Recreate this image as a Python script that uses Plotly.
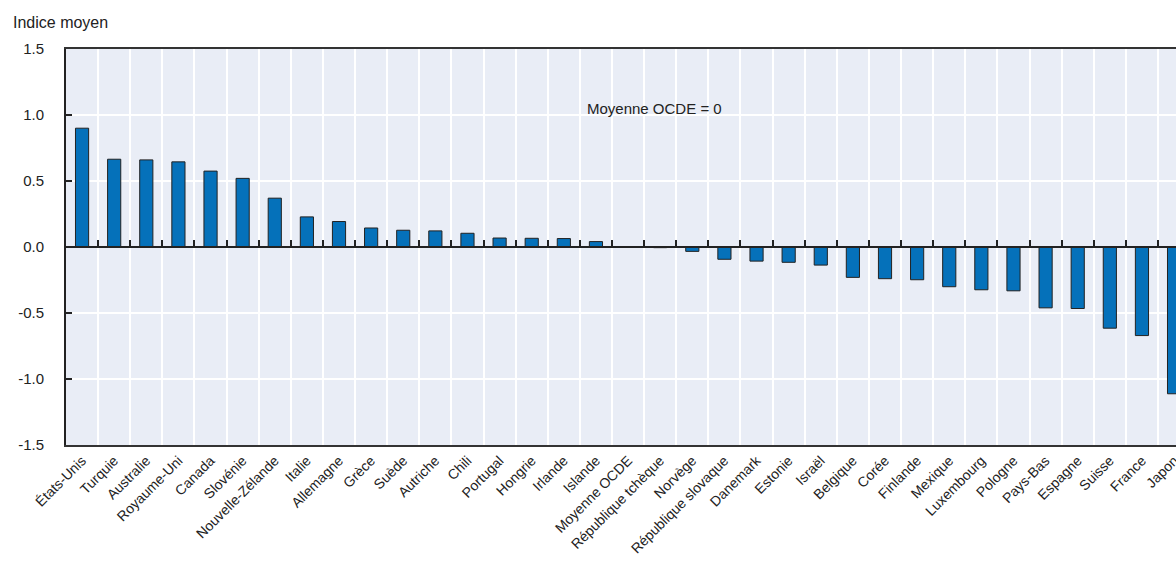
import plotly.graph_objects as go

# Indice moyen par pays (Moyenne OCDE = 0)
countries = ["États-Unis", "Turquie", "Australie", "Royaume-Uni", "Canada", "Slovénie",
             "Nouvelle-Zélande", "Italie", "Allemagne", "Grèce", "Suède", "Autriche",
             "Chili", "Portugal", "Hongrie", "Irlande", "Islande", "Moyenne OCDE",
             "République tchèque", "Norvège", "République slovaque", "Danemark",
             "Estonie", "Israël", "Belgique", "Corée", "Finlande", "Mexique",
             "Luxembourg", "Pologne", "Pays-Bas", "Espagne", "Suisse", "France", "Japon"]
values = [0.90, 0.665, 0.66, 0.645, 0.575, 0.52, 0.37, 0.228, 0.193, 0.144, 0.127, 0.122,
          0.104, 0.068, 0.066, 0.064, 0.041, 0.0, -0.005, -0.033, -0.093, -0.107,
          -0.116, -0.137, -0.23, -0.24, -0.248, -0.301, -0.324, -0.332, -0.461, -0.466,
          -0.615, -0.671, -1.112]
y_ticks = [-1.5, -1.0, -0.5, 0.0, 0.5, 1.0, 1.5]
y_ticktext = ["-1.5", "-1.0", "-0.5", "0.0", "0.5", "1.0", "1.5"]

FONT = "Liberation Sans, Arial, sans-serif"
BG = "#e9edf6"
DARK = "#222222"

fig = go.Figure()
fig.add_trace(go.Bar(x=countries, y=values,
                     marker=dict(color="#0571ba", line=dict(color=DARK, width=1)),
                     showlegend=False))
# invisible trace so the zero-line axis (ticks between bars) gets drawn
fig.add_trace(go.Scatter(x=countries, y=values, xaxis="x2", mode="markers",
                         marker_opacity=0, hoverinfo="skip", showlegend=False))

# the plot runs past the right edge of the picture, Japon is cut off
xrange = [-0.5, 34.06]
fig.update_layout(
    width=1176, height=568,
    margin=dict(l=66, r=0, t=49, b=123, autoexpand=False),
    paper_bgcolor="white", plot_bgcolor=BG,
    bargap=0.59,
    font=dict(family=FONT, size=15, color=DARK),
    xaxis=dict(type="category", categoryorder="array", categoryarray=countries,
               range=xrange, tickangle=-45, tickson="boundaries", automargin=False,
               showgrid=True, gridcolor="white", gridwidth=2,
               ticks="", showline=True, mirror=True, linecolor="#333333", linewidth=2,
               tickfont=dict(size=14), fixedrange=True),
    xaxis2=dict(type="category", categoryorder="array", categoryarray=countries,
                range=xrange, overlaying="x", anchor="free", position=0.5,
                tickson="boundaries", ticks="inside", ticklen=6, tickwidth=2,
                tickcolor=DARK, showticklabels=False, showgrid=False, automargin=False,
                showline=True, linecolor=DARK, linewidth=2, fixedrange=True),
    yaxis=dict(range=[-1.5, 1.5], tickvals=y_ticks, ticktext=y_ticktext,
               showgrid=True, gridcolor="white", gridwidth=2, zeroline=False,
               ticks="inside", ticklen=6, tickwidth=2, tickcolor=DARK, automargin=False,
               showline=True, linecolor=DARK, linewidth=2,
               ticklabelstandoff=17, tickfont=dict(size=15), fixedrange=True),
)

fig.add_annotation(text="Indice moyen", xref="paper", yref="paper",
                   x=-0.05, y=1.068, xanchor="left", yanchor="middle",
                   showarrow=False, font=dict(size=16))
fig.add_annotation(text="Moyenne OCDE = 0", xref="paper", yref="y",
                   x=0.5306, y=1.05, xanchor="center", yanchor="middle",
                   showarrow=False, font=dict(size=15))

# drop the default page margin so the figure sits at the window's corner
fig.write_html("out.html", config={"displayModeBar": False},
               post_script="document.body.style.margin='0';"
                           "document.body.style.overflow='hidden';")
